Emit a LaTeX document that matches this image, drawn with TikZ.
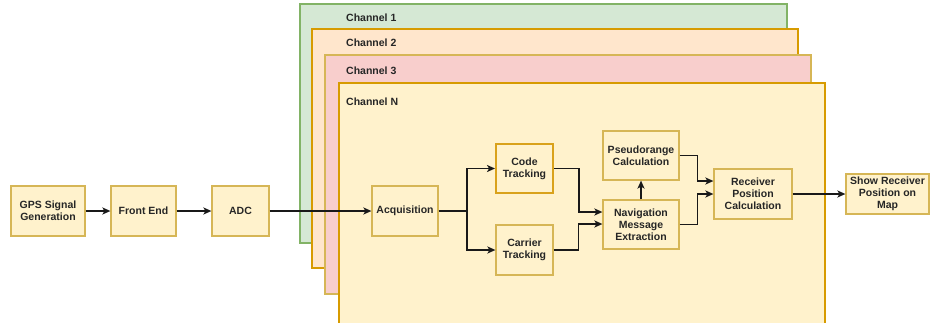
\documentclass[tikz,border=0pt]{standalone}
\usepackage{fontspec}
\setmainfont{Liberation Sans}
\usetikzlibrary{arrows.meta,calc}
\definecolor{boxfill}{HTML}{FFF2CC}
\definecolor{boxline}{HTML}{D6B656}
\definecolor{codeline}{HTML}{D9A21B}
\definecolor{gfill}{HTML}{D5E8D4}
\definecolor{gline}{HTML}{82B366}
\definecolor{ofill}{HTML}{FFE6CC}
\definecolor{oline}{HTML}{D79B00}
\definecolor{rfill}{HTML}{F8CECC}
\tikzset{
  box/.style={draw=boxline, fill=boxfill, line width=1.2pt, inner sep=1pt, align=center,
    font=\fontsize{10.5}{12}\selectfont\bfseries, text=black!85},
  chan/.style={line width=1.2pt},
  chlabel/.style={anchor=west, inner sep=0pt, font=\fontsize{10.5}{12}\selectfont\bfseries, text=black!85},
  arr/.style={draw=black!90, line width=1.5pt, -{Stealth[length=8pt,width=7pt,inset=2pt]}},
  ln/.style={draw=black!90, line width=1.5pt}
}
\begin{document}
\begin{tikzpicture}[x=1pt,y=-1pt]
\useasboundingbox (0,0) rectangle (930,322);
% channels
\draw[chan, draw=gline, fill=gfill] (300,4) rectangle (787,243);
\coordinate (c1) at (346,18);
\node[chlabel] (l1) at (c1) {Channel 1};
\draw[chan, draw=oline, fill=ofill] (312,29) rectangle (798,268);
\node[chlabel] (l2) at (346,43) {Channel 2};
\draw[chan, draw=boxline, fill=rfill] (325,55) rectangle (811,294);
\node[chlabel] (l3) at (346,71) {Channel 3};
\draw[chan, draw=oline, fill=boxfill] (339,83) rectangle (825,330);
\node[chlabel] (ln) at (346,102) {Channel N};
% boxes
\node[box, minimum width=74pt, minimum height=50pt] (gps) at (48,211) {GPS Signal\\Generation};
\node[box, minimum width=65pt, minimum height=50pt] (fe) at (143.5,211) {Front End};
\node[box, minimum width=57pt, minimum height=50pt] (adc) at (240.5,211) {ADC};
\node[box, minimum width=66pt, minimum height=50pt] (acq) at (405,211) {Acquisition};
\node[box, draw=codeline, line width=2pt, minimum width=57pt, minimum height=49pt] (code) at (524.5,168.5) {Code\\Tracking};
\node[box, minimum width=57pt, minimum height=50pt] (car) at (524.5,250) {Carrier\\Tracking};
\node[box, minimum width=76pt, minimum height=49pt] (nav) at (641,224.5) {Navigation\\Message\\Extraction};
\node[box, minimum width=76pt, minimum height=49pt] (ps) at (641,155.5) {Pseudorange\\Calculation};
\node[box, minimum width=78pt, minimum height=50pt] (rec) at (753,194) {Receiver\\Position\\Calculation};
\node[box, minimum width=83pt, minimum height=40pt] (show) at (887.5,194) {Show Receiver\\Position on\\Map};
% connectors
\draw[arr] (gps) -- (fe);
\draw[arr] (fe) -- (adc);
\draw[arr] (adc) -- (acq);
\coordinate (b1) at (467,211);
\draw[ln] (acq.east) -- (b1);
\draw[arr] (b1) |- (code.west);
\draw[arr] (b1) |- (car.west);
\draw[arr] (code.east) -- ++(25,0) |- ($(nav.west)+(0,-12.5)$);
\draw[arr] (car.east) -- ++(25,0) |- ($(nav.west)+(0,-0.5)$);
\draw[arr] (nav.north) -- (ps.south);
\draw[arr] (ps.east) -- ++(18,0) |- ($(rec.west)+(0,-13)$);
\draw[arr] (nav.east) -- ++(18,0) |- (rec.west);
\draw[arr] (rec.east) -- (show.west);
\end{tikzpicture}
\end{document}
